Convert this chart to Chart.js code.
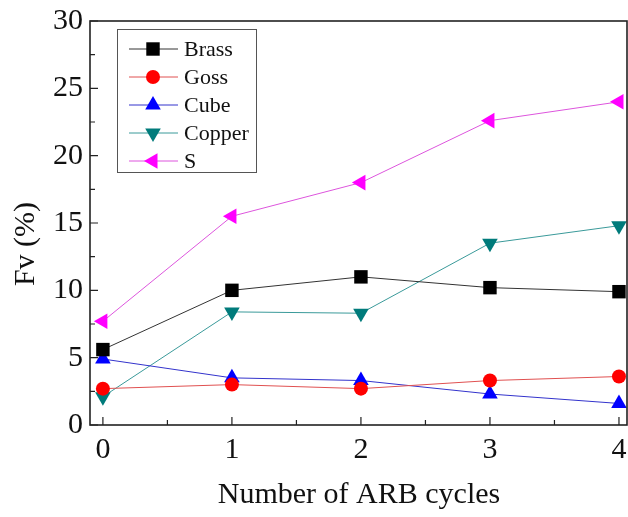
<!DOCTYPE html>
<html lang="en">
<head>
    <meta charset="UTF-8">
    <title>Fv vs ARB cycles</title>
    <script src="https://cdn.jsdelivr.net/npm/chart.js"></script>
    <style>
        body {
            margin: 0;
            background: #fff;
        }
        #wrap {
            width: 628px;
            height: 517px;
        }
    </style>
</head>
<body>
    <div id="wrap"><canvas id="myChart" width="628" height="517"></canvas></div>

    <script>
        // Data
        const cycles = [0, 1, 2, 3, 4];
        const brass = [5.6, 10.0, 11.0, 10.2, 9.9];
        const goss = [2.7, 3.0, 2.7, 3.3, 3.6];
        const cube = [4.9, 3.5, 3.3, 2.3, 1.6];
        const copper = [2.1, 8.4, 8.3, 13.5, 14.8];
        const sTex = [7.7, 15.5, 18.0, 22.6, 24.0];
        const seriesNames = ['Brass', 'Goss', 'Cube', 'Copper', 'S'];
        const xTicks = [0, 1, 2, 3, 4];
        const yTicks = [0, 5, 10, 15, 20, 25, 30];

        const serif = '"Liberation Serif", "Times New Roman", serif';

        function pts(values) {
            return cycles.map((c, i) => ({ x: c, y: values[i] }));
        }

        function makeSet(label, values, color, lineColor, style, radius, rotation) {
            return {
                label: label,
                data: pts(values),
                borderColor: lineColor,
                backgroundColor: color,
                pointBackgroundColor: color,
                pointBorderColor: color,
                pointBorderWidth: 0,
                borderWidth: 1,
                pointStyle: style,
                pointRadius: radius,
                pointRotation: rotation,
                pointHoverRadius: radius,
                clip: false
            };
        }

        // Frame, inward ticks (major + minor) and the y title
        const framePlugin = {
            id: 'frame',
            afterDraw(chart) {
                const ctx = chart.ctx;
                const a = chart.chartArea;
                const xs = chart.scales.x;
                const ys = chart.scales.y;
                ctx.save();
                ctx.strokeStyle = '#222';
                ctx.lineWidth = 1.6;
                ctx.strokeRect(a.left, a.top, a.right - a.left - 1, a.bottom - a.top);
                ctx.lineWidth = 1.2;
                ctx.beginPath();
                for (let v = 0; v <= 4; v += 0.5) {
                    const px = xs.getPixelForValue(v);
                    const len = Number.isInteger(v) ? 8 : 5;
                    ctx.moveTo(px, a.bottom);
                    ctx.lineTo(px, a.bottom - len);
                }
                for (let v = 0; v <= 30; v += 2.5) {
                    const py = ys.getPixelForValue(v);
                    const len = v % 5 === 0 ? 8 : 5;
                    ctx.moveTo(a.left, py);
                    ctx.lineTo(a.left + len, py);
                }
                ctx.stroke();

                ctx.translate(26, 244);
                ctx.rotate(-Math.PI / 2);
                ctx.fillStyle = '#111';
                ctx.font = '30px ' + serif;
                ctx.textAlign = 'center';
                ctx.textBaseline = 'middle';
                ctx.fillText('Fv (%)', 0, 0);
                ctx.restore();
            }
        };

        // Legend box with a line through each marker
        const legendPlugin = {
            id: 'boxLegend',
            afterDatasetsDraw(chart) {
                const ctx = chart.ctx;
                ctx.save();
                ctx.fillStyle = '#fff';
                ctx.fillRect(117, 29, 139, 143);
                ctx.strokeStyle = '#555';
                ctx.lineWidth = 1;
                ctx.strokeRect(117.5, 29.5, 139, 143);
                chart.data.datasets.forEach((ds, i) => {
                    const y = 49 + i * 28;
                    ctx.strokeStyle = ds.borderColor;
                    ctx.lineWidth = 1;
                    ctx.beginPath();
                    ctx.moveTo(129, y);
                    ctx.lineTo(178, y);
                    ctx.stroke();
                    ctx.fillStyle = ds.pointBackgroundColor;
                    ctx.strokeStyle = ds.pointBorderColor;
                    Chart.helpers.drawPoint(ctx, {
                        pointStyle: ds.pointStyle,
                        rotation: ds.pointRotation,
                        radius: ds.pointRadius,
                        borderWidth: 0
                    }, 153, y);
                    ctx.fillStyle = '#111';
                    ctx.font = '22px ' + serif;
                    ctx.textBaseline = 'middle';
                    ctx.textAlign = 'left';
                    ctx.fillText(ds.label, 184, y + 1);
                });
                ctx.restore();
            }
        };

        const ctx = document.getElementById('myChart').getContext('2d');
        const chart = new Chart(ctx, {
            type: 'line',
            data: {
                datasets: [
                    makeSet(seriesNames[0], brass, '#000000', '#333333', 'rect', 9.5, 0),
                    makeSet(seriesNames[1], goss, '#ff0000', '#e05050', 'circle', 7, 0),
                    makeSet(seriesNames[2], cube, '#0000ff', '#3333cc', 'triangle', 9, 0),
                    makeSet(seriesNames[3], copper, '#007b7b', '#3a9a9a', 'triangle', 9, 180),
                    makeSet(seriesNames[4], sTex, '#ff00ff', '#dd55dd', 'triangle', 9, -90)
                ]
            },
            options: {
                responsive: false,
                animation: false,
                layout: { autoPadding: false, padding: { top: 21, right: 0, left: 0, bottom: 0 } },
                plugins: {
                    legend: { display: false },
                    tooltip: { enabled: false }
                },
                scales: {
                    x: {
                        type: 'linear',
                        min: -0.1,
                        max: 4.07,
                        afterBuildTicks: (s) => { s.ticks = xTicks.map(v => ({ value: v })); },
                        afterFit: (s) => { s.height = 92; s.paddingRight = 0; s.paddingLeft = 0; },
                        grid: { display: false, drawTicks: false },
                        border: { display: false },
                        ticks: {
                            color: '#111',
                            padding: 7,
                            font: { family: serif, size: 30 }
                        },
                        title: {
                            display: true,
                            text: 'Number of ARB cycles',
                            color: '#111',
                            padding: { top: 12 },
                            font: { family: serif, size: 30 }
                        }
                    },
                    y: {
                        min: 0,
                        max: 30,
                        afterBuildTicks: (s) => { s.ticks = yTicks.map(v => ({ value: v })); },
                        afterFit: (s) => { s.width = 90; s.paddingTop = 0; s.paddingBottom = 0; },
                        grid: { display: false, drawTicks: false },
                        border: { display: false },
                        ticks: {
                            color: '#111',
                            padding: 7,
                            font: { family: serif, size: 30 }
                        },
                        title: { display: false }
                    }
                }
            },
            plugins: [framePlugin, legendPlugin]
        });
    </script>
</body>
</html>
